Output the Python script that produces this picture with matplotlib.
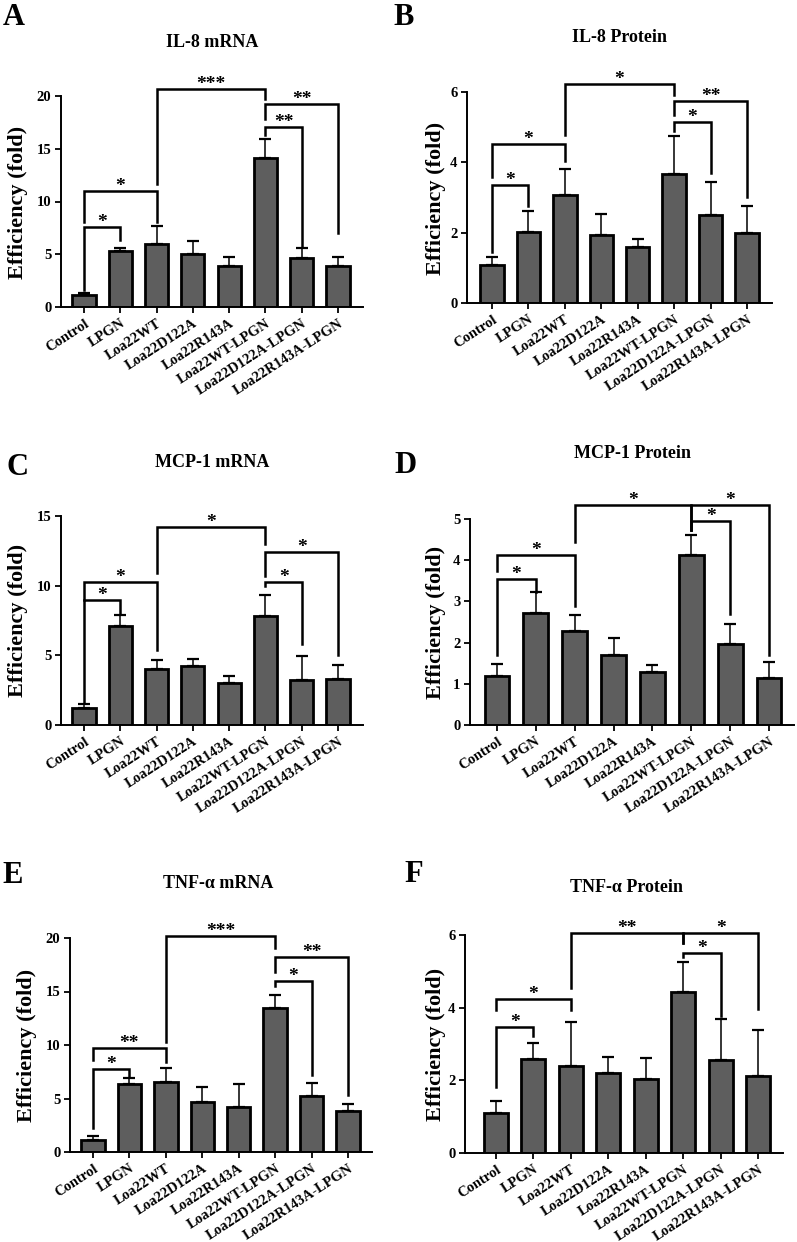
import numpy as np
import matplotlib
matplotlib.use('Agg')
import matplotlib.pyplot as plt

plt.rcParams['font.family'] = ['Liberation Serif', 'DejaVu Serif']
plt.rcParams['font.weight'] = 'bold'

groups = ['Control', 'LPGN', 'Loa22WT', 'Loa22D122A', 'Loa22R143A',
          'Loa22WT-LPGN', 'Loa22D122A-LPGN', 'Loa22R143A-LPGN']

# mean and upper error per panel
il8_mrna = [1.15, 5.3, 6.0, 5.0, 3.9, 14.1, 4.6, 3.9]
il8_mrna_err = [0.18, 0.3, 1.7, 1.27, 0.8, 1.85, 1.0, 0.85]
il8_prot = [1.07, 2.02, 3.08, 1.93, 1.59, 3.68, 2.5, 1.98]
il8_prot_err = [0.24, 0.59, 0.74, 0.59, 0.23, 1.08, 0.94, 0.77]
mcp1_mrna = [1.19, 7.12, 4.01, 4.23, 2.99, 7.83, 3.2, 3.32]
mcp1_mrna_err = [0.31, 0.74, 0.65, 0.5, 0.54, 1.53, 1.77, 0.98]
mcp1_prot = [1.18, 2.71, 2.29, 1.69, 1.28, 4.13, 1.97, 1.14]
mcp1_prot_err = [0.29, 0.51, 0.38, 0.42, 0.18, 0.49, 0.49, 0.38]
tnf_mrna = [1.16, 6.34, 6.5, 4.63, 4.16, 13.44, 5.22, 3.81]
tnf_mrna_err = [0.31, 0.53, 1.34, 1.43, 2.18, 1.25, 1.22, 0.72]
tnf_prot = [1.1, 2.6, 2.4, 2.21, 2.04, 4.44, 2.57, 2.13]
tnf_prot_err = [0.34, 0.42, 1.2, 0.42, 0.57, 0.83, 1.13, 1.26]

# brackets: (bar i, bar j, height, left leg end, right leg end, label)
br_a = [(0, 1, 7.6, 1.6, 6.35, '*'), (0, 2, 11.0, 8.1, 8.1, '*'),
        (2, 5, 20.7, 11.7, 19.7, '***'), (5, 7, 19.2, 17.8, 7.0, '**'),
        (5, 6, 17.1, 16.3, 5.7, '**')]
br_b = [(0, 1, 3.36, 1.45, 2.77, '*'), (0, 2, 4.52, 3.57, 4.04, '*'),
        (2, 5, 6.23, 4.78, 5.91, '*'), (5, 7, 5.75, 5.35, 3.02, '**'),
        (5, 6, 5.14, 4.9, 3.69, '*')]
br_c = [(0, 1, 8.97, 1.56, 8.06, '*'), (0, 2, 10.29, 8.97, 5.38, '*'),
        (2, 5, 14.19, 10.93, 12.97, '*'), (5, 7, 12.44, 10.7, 5.02, '*'),
        (5, 6, 10.29, 10.0, 5.81, '*')]
br_d = [(0, 1, 3.54, 1.70, 3.24, '*'), (0, 2, 4.13, 3.75, 2.89, '*'),
        (2, 5, 5.34, 4.43, 4.73, '*'), (5, 7, 5.34, 4.73, 1.70, '*'),
        (5, 6, 4.96, 4.73, 2.69, '*')]
br_e = [(0, 1, 7.73, 2.21, 7.0, '*'), (0, 2, 9.75, 8.6, 8.44, '**'),
        (2, 5, 20.19, 10.31, 19.1, '***'), (5, 7, 18.25, 16.85, 5.3, '**'),
        (5, 6, 15.98, 15.5, 7.2, '*')]
br_f = [(0, 1, 3.48, 1.83, 3.22, '*'), (0, 2, 4.23, 3.94, 3.94, '*'),
        (2, 5, 6.05, 4.53, 5.77, '**'), (5, 7, 6.05, 5.77, 3.95, '*'),
        (5, 6, 5.51, 5.4, 3.77, '*')]

W, H = 797, 1242
fig = plt.figure(figsize=(W / 100, H / 100), dpi=100)

# layout in pixels: left, right, top(ymax), bottom(0), first bar, last bar
panels = [
    ('A', 'IL-8 mRNA', il8_mrna, il8_mrna_err, br_a, [0, 5, 10, 15, 20],
     (61, 363, 96, 307, 84, 338), (14, 25), (212, 47), (18, 202)),
    ('B', 'IL-8 Protein', il8_prot, il8_prot_err, br_b, [0, 2, 4, 6],
     (467, 772, 92, 303, 492, 747), (404, 25), (620, 42), (436, 198)),
    ('C', 'MCP-1 mRNA', mcp1_mrna, mcp1_mrna_err, br_c, [0, 5, 10, 15],
     (61, 363, 516, 725, 84, 338), (18, 475), (212, 467), (18, 620)),
    ('D', 'MCP-1 Protein', mcp1_prot, mcp1_prot_err, br_d, [0, 1, 2, 3, 4, 5],
     (470, 794, 519, 725, 497, 769), (405, 473), (633, 458), (436, 622)),
    ('E', 'TNF-\u03b1 mRNA', tnf_mrna, tnf_mrna_err, br_e, [0, 5, 10, 15, 20],
     (70, 372, 938, 1152, 93, 348), (13, 883), (218, 888), (27, 1045)),
    ('F', 'TNF-\u03b1 Protein', tnf_prot, tnf_prot_err, br_f, [0, 2, 4, 6],
     (465, 783, 935, 1153, 496, 758), (414, 882), (627, 892), (436, 1044)),
]

x = np.arange(len(groups))
for letter, title, vals, err, brs, yt, box, lpos, tpos, ypos in panels:
    l, r, t, b, x0, x7 = box
    sp = (x7 - x0) / 7.0
    ax = fig.add_axes([l / W, 1 - b / H, (r - l) / W, (b - t) / H])
    ax.set_xlim(-(x0 - l) / sp, 7 + (r - x7) / sp)
    ax.set_ylim(0, yt[-1])

    ax.errorbar(x, vals, yerr=[np.zeros(len(vals)), err], fmt='none',
                ecolor='black', elinewidth=1.1, capsize=4.5, capthick=1.6,
                zorder=1)
    ax.bar(x, vals, width=0.64, color='#5e5e5e', edgecolor='black',
           linewidth=2.0, zorder=2)

    for i, j, h, yl, yr, lab in brs:
        ax.plot([i, i, j, j], [yl, h, h, yr], color='black', lw=1.8,
                solid_joinstyle='miter', clip_on=False, zorder=3)
        ax.text((i + j) / 2.0, h, lab, ha='center', va='baseline',
                fontsize=14, fontweight='bold', clip_on=False)

    for s in ['top', 'right']:
        ax.spines[s].set_visible(False)
    for s in ['left', 'bottom']:
        ax.spines[s].set_linewidth(1.4)
    ax.set_yticks(yt)
    ax.set_xticks(x)
    ax.set_xticklabels(groups, rotation=33, ha='right', va='top',
                       rotation_mode='anchor')
    ax.tick_params(axis='both', width=1.3, length=4, labelsize=10.5, pad=3)
    for lab in ax.get_xticklabels() + ax.get_yticklabels():
        lab.set_fontweight('bold')

    fig.text(lpos[0] / W, 1 - lpos[1] / H, letter, ha='center',
             va='baseline', fontsize=22, fontweight='bold')
    fig.text(tpos[0] / W, 1 - tpos[1] / H, title, ha='center',
             va='baseline', fontsize=13, fontweight='bold')
    fig.text(ypos[0] / W, 1 - ypos[1] / H, 'Efficiency (fold)', ha='center',
             va='center', rotation=90, fontsize=16, fontweight='bold')

fig.savefig('out.png', dpi=100)
